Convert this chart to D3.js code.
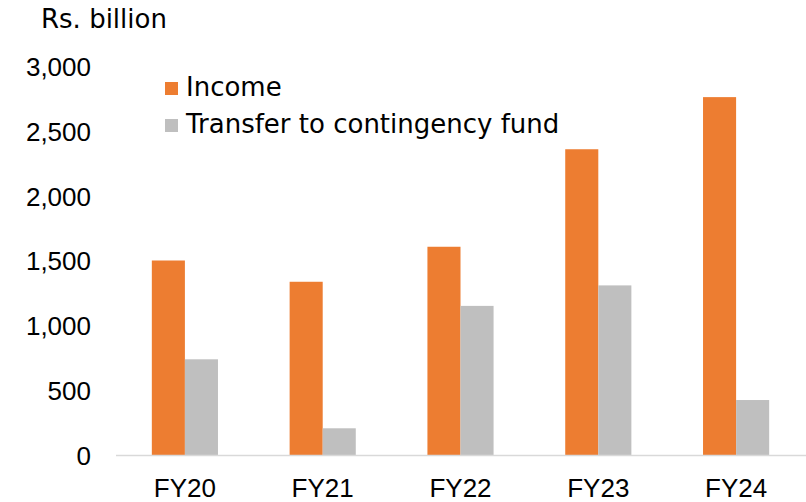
<!DOCTYPE html>
<html lang="en">
<head>
    <meta charset="UTF-8">
    <script src="https://d3js.org/d3.v7.min.js"></script>
    <style>
        body { margin: 0; background: #fff; font-family: "DejaVu Sans", sans-serif; }
        .tick text { font-size: 26px; fill: #000; }
        .legend text { font-size: 26px; fill: #000; }
    </style>
</head>
<body>
    <div id="chart"></div>
    <script>
        const years = ["FY20", "FY21", "FY22", "FY23", "FY24"];
        const seriesNames = ["Income", "Transfer to contingency fund"];
        const income = [1500, 1336, 1606, 2358, 2760];
        const transfer = [738, 206, 1150, 1308, 424];
        const yTicks = [0, 500, 1000, 1500, 2000, 2500, 3000];
        const colors = ["#ED7D31", "#BFBFBF"];

        const W = 806, H = 502;
        const plot = {left: 116, right: 805, top: 66, bottom: 455};

        const svg = d3.select("#chart").append("svg")
            .attr("width", W).attr("height", H);

        const x0 = d3.scaleBand().domain(years).range([plot.left, plot.right])
            .paddingInner(0.52).paddingOuter(0.26);
        const x1 = d3.scaleBand().domain(seriesNames).range([0, x0.bandwidth()]);
        const y = d3.scaleLinear().domain([0, 3000]).range([plot.bottom, plot.top]);

        const rows = years.map((yr, i) => ({ yr, vals: [income[i], transfer[i]] }));

        svg.append("g").selectAll("g").data(rows).enter().append("g")
            .attr("transform", d => `translate(${x0(d.yr)},0)`)
            .selectAll("rect")
            .data(d => d.vals.map((v, k) => ({ k, v })))
            .enter().append("rect")
            .attr("x", d => x1(seriesNames[d.k]))
            .attr("y", d => y(d.v))
            .attr("width", x1.bandwidth())
            .attr("height", d => y(0) - y(d.v))
            .attr("fill", d => colors[d.k]);

        // y axis (labels only)
        const yAxis = svg.append("g")
            .attr("transform", `translate(${plot.left - 25},0)`)
            .call(d3.axisLeft(y).tickValues(yTicks).tickSize(0).tickPadding(0).tickFormat(d3.format(",")));
        yAxis.select(".domain").remove();
        yAxis.selectAll("text").attr("dy", "0.36em");

        // x axis
        const xAxis = svg.append("g")
            .attr("transform", `translate(0,${plot.bottom})`)
            .call(d3.axisBottom(x0).tickSize(0).tickPadding(0).tickSizeOuter(0));
        xAxis.select(".domain").remove();
        xAxis.selectAll("text").attr("y", 42).attr("dy", 0);
        svg.append("line")
            .attr("x1", plot.left).attr("x2", W)
            .attr("y1", plot.bottom + 0.5).attr("y2", plot.bottom + 0.5)
            .attr("stroke", "#D9D9D9").attr("stroke-width", 1.5);

        // unit label
        svg.append("text")
            .attr("x", 41).attr("y", 28)
            .style("font-size", "26px")
            .text("Rs. billion");

        // legend
        const legend = svg.append("g").attr("class", "legend")
            .attr("transform", "translate(165,82)");
        const item = legend.selectAll("g").data(seriesNames).enter().append("g")
            .attr("transform", (d, i) => `translate(0,${i * 37})`);
        item.append("rect").attr("width", 13).attr("height", 13)
            .attr("fill", (d, i) => colors[i]);
        item.append("text").attr("x", 21).attr("y", 14).text(d => d);
    </script>
</body>
</html>
